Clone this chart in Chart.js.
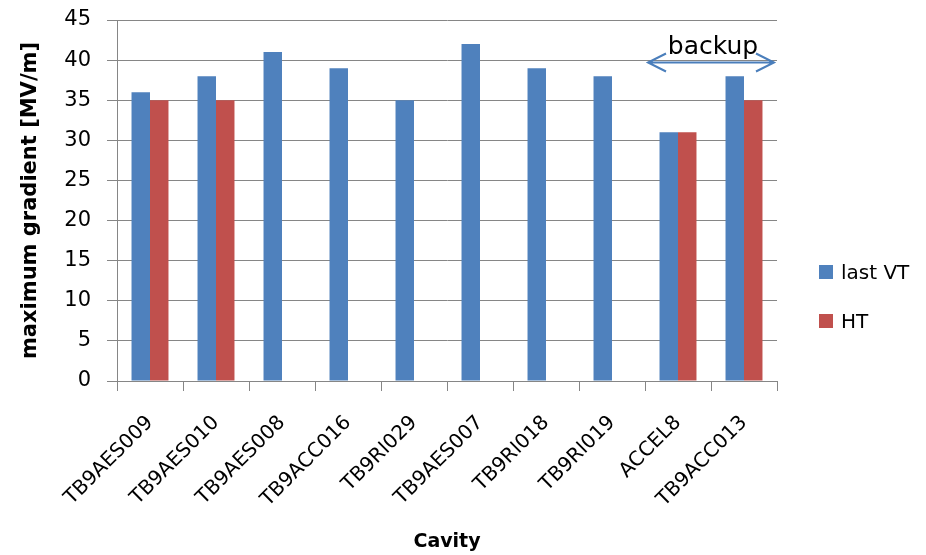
<!DOCTYPE html>
<html lang="en">
<head>
  <meta charset="UTF-8">
  <title>Maximum gradient per cavity</title>
  <script src="https://cdn.jsdelivr.net/npm/chart.js"></script>
  <style>
    body { margin: 0; background: #fff; }
    #wrap { position: relative; width: 926px; height: 555px; }
    #legenda { position: absolute; left: 819px; top: 261px; font: 20px "DejaVu Sans", sans-serif; color: #000; }
    .legenda-item { display: flex; align-items: center; height: 22px; margin-bottom: 27px; }
    .legenda-cor { width: 14px; height: 14px; margin-right: 8px; }
  </style>
</head>
<body>
  <div id="wrap">
    <canvas id="grafico" width="926" height="555"></canvas>
    <div id="legenda"></div>
  </div>

  <script>
    const cavities = ['TB9AES009', 'TB9AES010', 'TB9AES008', 'TB9ACC016', 'TB9RI029',
                      'TB9AES007', 'TB9RI018', 'TB9RI019', 'ACCEL8', 'TB9ACC013'];
    const lastVT = [36, 38, 41, 39, 35, 42, 39, 38, 31, 38];
    const HT = [35, 35, null, null, null, null, null, null, 31, 35];
    const yTicks = [0, 5, 10, 15, 20, 25, 30, 35, 40, 45];
    const backupFrom = 8, backupTo = 9, backupLevel = 39.7;

    const cores = { 'last VT': '#4f81bd', 'HT': '#c0504d' };
    const fonte = '"DejaVu Sans", sans-serif';
    const cinza = '#868686';

    // seta "backup" sobre as duas ultimas cavidades
    const setaBackup = {
      id: 'setaBackup',
      afterDatasetsDraw(chart) {
        const x = chart.scales.x, y = chart.scales.y;
        const meia = (x.getPixelForValue(1) - x.getPixelForValue(0)) / 2;
        const x1 = x.getPixelForValue(backupFrom) - meia + 3;
        const x2 = x.getPixelForValue(backupTo) + meia - 3;
        const yy = y.getPixelForValue(backupLevel);
        const ctx = chart.ctx;
        ctx.save();
        ctx.strokeStyle = '#4a7ebb';
        ctx.lineWidth = 2;
        ctx.beginPath();
        ctx.moveTo(x1, yy); ctx.lineTo(x2, yy);
        ctx.moveTo(x1 + 18, yy - 9); ctx.lineTo(x1, yy); ctx.lineTo(x1 + 18, yy + 9);
        ctx.moveTo(x2 - 18, yy - 9); ctx.lineTo(x2, yy); ctx.lineTo(x2 - 18, yy + 9);
        ctx.stroke();
        ctx.fillStyle = '#000';
        ctx.font = '25px ' + fonte;
        ctx.textAlign = 'center';
        ctx.textBaseline = 'alphabetic';
        ctx.fillText('backup', (x1 + x2) / 2 + 2, yy - 9);
        ctx.restore();
      }
    };

    new Chart(document.getElementById('grafico'), {
      type: 'bar',
      data: {
        labels: cavities,
        datasets: [
          { label: 'last VT', data: lastVT, backgroundColor: cores['last VT'], categoryPercentage: 0.56, barPercentage: 1 },
          { label: 'HT', data: HT, backgroundColor: cores['HT'], categoryPercentage: 0.56, barPercentage: 1 }
        ]
      },
      options: {
        responsive: false,
        animation: false,
        layout: { padding: { left: 0, top: 20, right: 149, bottom: 0 } },
        plugins: { legend: { display: false }, tooltip: { enabled: false } },
        scales: {
          x: {
            afterFit: s => { s.height = 174; s.paddingLeft = 0; s.paddingRight = 0; },
            grid: { offset: true, drawOnChartArea: false, color: cinza, tickLength: 10 },
            border: { color: cinza },
            ticks: { minRotation: 45, maxRotation: 45, padding: 20, color: '#000', font: { family: fonte, size: 20 } },
            title: { display: true, text: 'Cavity', color: '#000', font: { family: fonte, size: 19, weight: 'bold' }, padding: { top: 0, bottom: 2 } }
          },
          y: {
            min: 0, max: 45,
            afterFit: s => { s.width = 117; s.paddingTop = 0; s.paddingBottom = 0; },
            afterBuildTicks: s => { s.ticks = yTicks.map(v => ({ value: v })); },
            grid: { color: cinza, tickLength: 10 },
            border: { color: cinza },
            ticks: { padding: 16, color: '#000', font: { family: fonte, size: 21 } },
            title: { display: true, text: 'maximum gradient [MV/m]', color: '#000', font: { family: fonte, size: 21, weight: 'bold' }, padding: { top: 18, bottom: 0 } }
          }
        }
      },
      plugins: [setaBackup]
    });

    const legenda = document.getElementById('legenda');
    legenda.innerHTML = Object.keys(cores).map(s =>
      `<div class="legenda-item"><span class="legenda-cor" style="background-color:${cores[s]}"></span>${s}</div>`
    ).join('');
  </script>
</body>
</html>
